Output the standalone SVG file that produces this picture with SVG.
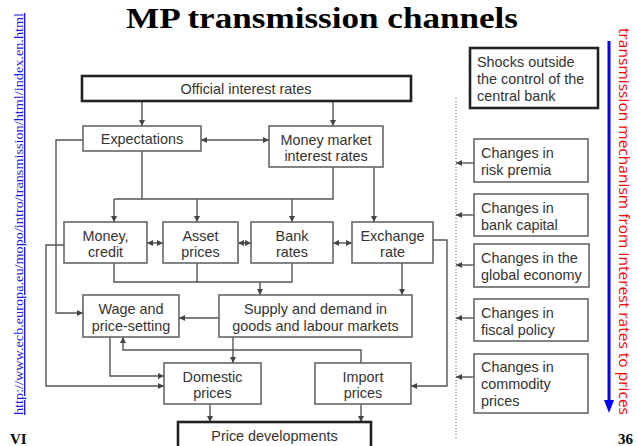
<svg xmlns="http://www.w3.org/2000/svg" width="637" height="446" viewBox="0 0 637 446">
<defs>
<marker id="ah" viewBox="0 0 6 6" refX="6" refY="3" markerWidth="6" markerHeight="6" markerUnits="userSpaceOnUse" orient="auto-start-reverse">
<path d="M0,0 L6,3 L0,6 z" fill="#444"/>
</marker>
<style>
.box{fill:#fff;stroke:#666;stroke-width:1.6}
.tbox{fill:#fff;stroke:#222;stroke-width:2.6}
.t{font-family:"Liberation Sans",Arial,sans-serif;font-size:14.4px;fill:#333;text-anchor:middle}
.tl{font-family:"Liberation Sans",Arial,sans-serif;font-size:14.4px;fill:#333}
.c{fill:none;stroke:#555;stroke-width:1.4}
.a{marker-end:url(#ah)}
.b{marker-start:url(#ah);marker-end:url(#ah)}
</style>
</defs>
<rect width="637" height="446" fill="#fff"/>

<text x="322" y="28" font-family="Liberation Serif,Times New Roman,serif" font-weight="bold" font-size="30" textLength="392" lengthAdjust="spacingAndGlyphs" text-anchor="middle" fill="#000">MP transmission channels</text>
<text transform="translate(23,415) rotate(-90)" font-family="Liberation Serif,Times New Roman,serif" font-size="13" fill="#1a1aee" text-decoration="underline" textLength="402" lengthAdjust="spacingAndGlyphs">http://www.ecb.europa.eu/mopo/intro/transmission/html/index.en.html</text>
<text x="10" y="444" font-family="Liberation Serif,Times New Roman,serif" font-weight="bold" font-size="15" fill="#000">VI</text>
<text x="633" y="444" font-family="Liberation Serif,Times New Roman,serif" font-weight="bold" font-size="15" fill="#000" text-anchor="end">36</text>
<text transform="translate(619,28) rotate(90)" font-family="Open Sans,DejaVu Sans,sans-serif" font-size="15" fill="#ff0000" textLength="387" lengthAdjust="spacingAndGlyphs">transmission mechanism from interest rates to prices</text>
<g id="timeline-arrow">
<line x1="609" y1="41" x2="609" y2="402" stroke="#0000ff" stroke-width="3"/>
<polygon points="604,400 614,400 609,413" fill="#0000ff"/>
</g>

<g id="connectors">
<path class="c a" d="M142,101 V126"/>
<path class="c a" d="M333,101 V126"/>
<path class="c b" d="M201,140 H269"/>
<path class="c a" d="M83,140 H56 V313 H83"/>
<path class="c a" d="M64,245 H46 V386 H164"/>
<path class="c" d="M142,151 V199"/>
<path class="c" d="M114,199 H333 V167"/>
<path class="c a" d="M114,199 V222"/>
<path class="c a" d="M197,199 V222"/>
<path class="c a" d="M292,199 V222"/>
<path class="c a" d="M374,167 V222"/>
<path class="c b" d="M147,243 H163"/>
<path class="c b" d="M238,243 H251"/>
<path class="c b" d="M333,243 H352"/>
<path class="c" d="M114,263 V282 H292 V263"/>
<path class="c" d="M197,263 V282"/>
<path class="c a" d="M260,282 V295"/>
<path class="c a" d="M402,263 V295"/>
<path class="c a" d="M433,240 H447 V386 H411"/>
<path class="c a" d="M219,318 H179"/>
<path class="c a" d="M233,337 V363"/>
<path class="c a" d="M361,363 V350 H123 V337"/>
<path class="c a" d="M110,337 V376 H164"/>
<path class="c a" d="M210,404 V422"/>
<path class="c a" d="M361,404 V422"/>
<path d="M456,98 V440" fill="none" stroke="#777" stroke-width="1.2" stroke-dasharray="1,2"/>
<path class="c a" d="M474,163 H456"/>
<path class="c a" d="M474,215 H456"/>
<path class="c a" d="M474,265 H456"/>
<path class="c a" d="M474,318 H456"/>
<path class="c a" d="M474,377 H456"/>
</g>

<g id="official"><rect class="tbox" x="82" y="76" width="329" height="25"/><text class="t" x="246" y="94">Official interest rates</text></g>
<g id="expectations"><rect class="box" x="83" y="126" width="118" height="25"/><text class="t" x="142" y="144">Expectations</text></g>
<g id="money-market"><rect class="box" x="269" y="126" width="114" height="41"/><text class="t" x="326" y="145">Money market</text><text class="t" x="326" y="161">interest rates</text></g>
<g id="money-credit"><rect class="box" x="64" y="222" width="83" height="41"/><text class="t" x="105.5" y="241">Money,</text><text class="t" x="105.5" y="257">credit</text></g>
<g id="asset-prices"><rect class="box" x="163" y="222" width="75" height="41"/><text class="t" x="200.5" y="241">Asset</text><text class="t" x="200.5" y="257">prices</text></g>
<g id="bank-rates"><rect class="box" x="251" y="222" width="82" height="41"/><text class="t" x="292" y="241">Bank</text><text class="t" x="292" y="257">rates</text></g>
<g id="exchange-rate"><rect class="box" x="352" y="222" width="81" height="41"/><text class="t" x="392.5" y="241">Exchange</text><text class="t" x="392.5" y="257">rate</text></g>
<g id="wage"><rect class="box" x="83" y="295" width="96" height="42"/><text class="t" x="131" y="314">Wage and</text><text class="t" x="131" y="331">price-setting</text></g>
<g id="supply-demand"><rect class="box" x="219" y="295" width="193" height="42"/><text class="t" x="315.5" y="314">Supply and demand in</text><text class="t" x="315.5" y="331">goods and labour markets</text></g>
<g id="domestic"><rect class="box" x="164" y="363" width="97" height="41"/><text class="t" x="212.5" y="382">Domestic</text><text class="t" x="212.5" y="398">prices</text></g>
<g id="import"><rect class="box" x="315" y="363" width="96" height="41"/><text class="t" x="363" y="382">Import</text><text class="t" x="363" y="398">prices</text></g>
<g id="price-developments"><rect class="tbox" x="178" y="422" width="193" height="30"/><text class="t" x="274.5" y="441">Price developments</text></g>

<g id="shocks"><rect class="tbox" x="470" y="48" width="128" height="60"/><text class="tl" x="477" y="67">Shocks outside</text><text class="tl" x="477" y="84">the control of the</text><text class="tl" x="477" y="101">central bank</text></g>
<g id="risk-premia"><rect class="box" x="474" y="139" width="114" height="43"/><text class="tl" x="481" y="158">Changes in</text><text class="tl" x="481" y="175">risk premia</text></g>
<g id="bank-capital"><rect class="box" x="474" y="194" width="114" height="42"/><text class="tl" x="481" y="213">Changes in</text><text class="tl" x="481" y="230">bank capital</text></g>
<g id="global-economy"><rect class="box" x="474" y="244" width="115" height="43"/><text class="tl" x="481" y="263">Changes in the</text><text class="tl" x="481" y="280">global economy</text></g>
<g id="fiscal-policy"><rect class="box" x="474" y="299" width="114" height="42"/><text class="tl" x="481" y="318">Changes in</text><text class="tl" x="481" y="335">fiscal policy</text></g>
<g id="commodity"><rect class="box" x="474" y="354" width="114" height="59"/><text class="tl" x="481" y="372">Changes in</text><text class="tl" x="481" y="389">commodity</text><text class="tl" x="481" y="406">prices</text></g>
</svg>
